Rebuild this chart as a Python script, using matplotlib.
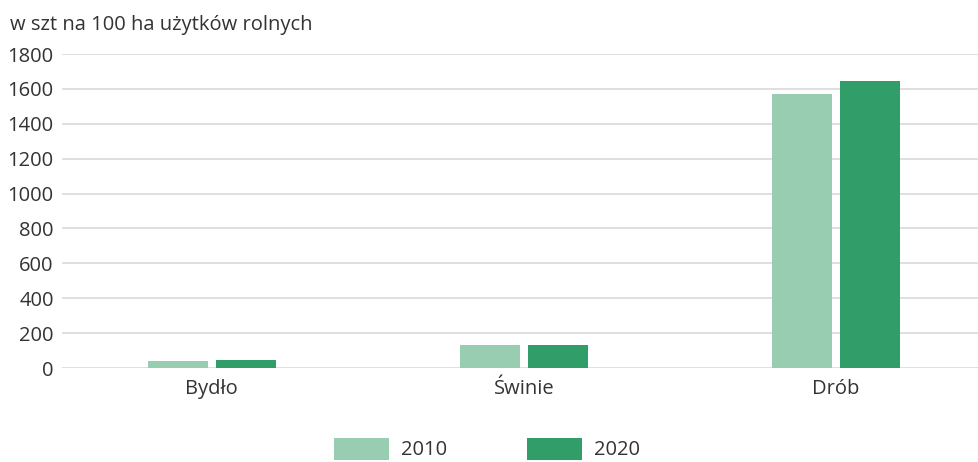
import numpy as np
import matplotlib.pyplot as plt
from matplotlib.patches import Patch

categories = ['Bydło', 'Świnie', 'Drób']
years = ['2010', '2020']
values_2010 = [42, 131, 1569]
values_2020 = [43, 133, 1647]
yticks = [0, 200, 400, 600, 800, 1000, 1200, 1400, 1600, 1800]

colors = ['#99cdb2', '#319d68']
text_color = '#333333'
fs = 14.5

plt.rcParams['font.family'] = ['Open Sans', 'DejaVu Sans']

fig = plt.figure(figsize=(9.79, 4.62), dpi=100)
ax = fig.add_axes([62 / 979, 94 / 462, 1 - 62 / 979, (368 - 54) / 462])

x = np.arange(len(categories))
width = 0.192
off = 0.109
ax.bar(x - off, values_2010, width, color=colors[0], zorder=3)
ax.bar(x + off, values_2020, width, color=colors[1], zorder=3)

ax.set_xlim(-0.48, 2.458)
ax.set_ylim(0, 1800)
ax.set_yticks(yticks)
ax.set_yticklabels([str(v) for v in yticks])
ax.set_xticks(x)
ax.set_xticklabels(categories)
ax.grid(axis='y', color='#dcdcdc', linewidth=1.3, zorder=0)
for s in ax.spines.values():
    s.set_visible(False)
ax.tick_params(axis='y', length=0, pad=6, labelsize=fs, labelcolor=text_color)
ax.tick_params(axis='x', length=0, pad=8, labelsize=fs, labelcolor=text_color)

fig.text(10 / 979, 1 - 25 / 462, 'w szt na 100 ha użytków rolnych',
         fontsize=fs, color=text_color, va='center', ha='left')

handles = [Patch(facecolor=c, edgecolor='none') for c in colors]
leg = fig.legend(handles, years, loc='center', bbox_to_anchor=(487 / 979, 1 - 449 / 462),
                 ncol=2, frameon=False, fontsize=fs, handlelength=2.7,
                 handleheight=1.3, handletextpad=0.6, columnspacing=4.0)
for t in leg.get_texts():
    t.set_color(text_color)

fig.savefig('out.png', dpi=100)
